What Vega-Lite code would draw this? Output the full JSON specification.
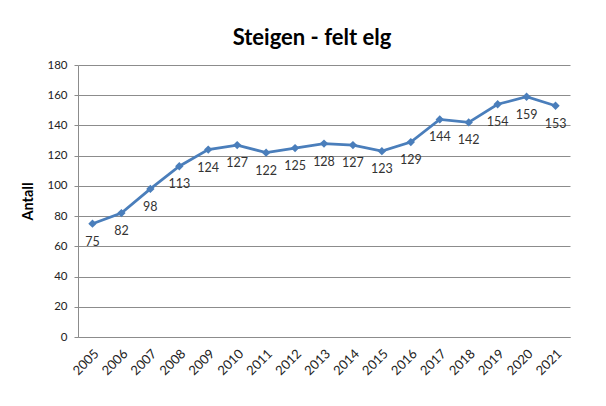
{
  "$schema": "https://vega.github.io/schema/vega-lite/v6.json",
  "width": 492,
  "height": 272,
  "autosize": "none",
  "padding": {"left": 78, "top": 65, "right": 36, "bottom": 69},
  "background": "white",
  "title": {
    "text": "Steigen - felt elg",
    "font": "Lato",
    "fontSize": 22,
    "fontWeight": "bold",
    "color": "#000000",
    "anchor": "middle",
    "frame": "group",
    "offset": 9,
    "dx": -12
  },
  "data": {
    "values": [
      {"year": "2005", "antall": 75},
      {"year": "2006", "antall": 82},
      {"year": "2007", "antall": 98},
      {"year": "2008", "antall": 113},
      {"year": "2009", "antall": 124},
      {"year": "2010", "antall": 127},
      {"year": "2011", "antall": 122},
      {"year": "2012", "antall": 125},
      {"year": "2013", "antall": 128},
      {"year": "2014", "antall": 127},
      {"year": "2015", "antall": 123},
      {"year": "2016", "antall": 129},
      {"year": "2017", "antall": 144},
      {"year": "2018", "antall": 142},
      {"year": "2019", "antall": 154},
      {"year": "2020", "antall": 159},
      {"year": "2021", "antall": 153}
    ]
  },
  "encoding": {
    "x": {
      "field": "year",
      "type": "ordinal",
      "scale": {"type": "band", "paddingInner": 0, "paddingOuter": 0},
      "axis": {
        "title": null,
        "labelAngle": -45,
        "labelFont": "Lato",
        "labelFontSize": 13,
        "labelColor": "#222222",
        "labelPadding": 10,
        "ticks": false,
        "domainColor": "#8c8c8c",
        "domainWidth": 1,
        "grid": false
      }
    },
    "y": {
      "field": "antall",
      "type": "quantitative",
      "scale": {"domain": [0, 180], "nice": false},
      "axis": {
        "title": "Antall",
        "titleFont": "Lato",
        "titleFontSize": 14.5,
        "titleFontWeight": "bold",
        "titleColor": "#000000",
        "titlePadding": 11,
        "values": [0, 20, 40, 60, 80, 100, 120, 140, 160, 180],
        "labelFont": "Lato",
        "labelFontSize": 11.5,
        "labelColor": "#222222",
        "labelPadding": 7,
        "tickSize": 4,
        "tickColor": "#8c8c8c",
        "domainColor": "#8c8c8c",
        "gridColor": "#8c8c8c",
        "gridWidth": 1
      }
    }
  },
  "layer": [
    {
      "mark": {"type": "line", "color": "#4A7EBB", "strokeWidth": 2.75}
    },
    {
      "mark": {"type": "point", "shape": "diamond", "filled": true, "color": "#4A7EBB", "size": 70, "opacity": 1}
    },
    {
      "mark": {"type": "text", "font": "Lato", "fontSize": 12.5, "color": "#333333", "dy": 18, "baseline": "middle", "align": "center"},
      "encoding": {"text": {"field": "antall", "type": "quantitative"}}
    }
  ],
  "config": {
    "view": {"stroke": null}
  }
}
